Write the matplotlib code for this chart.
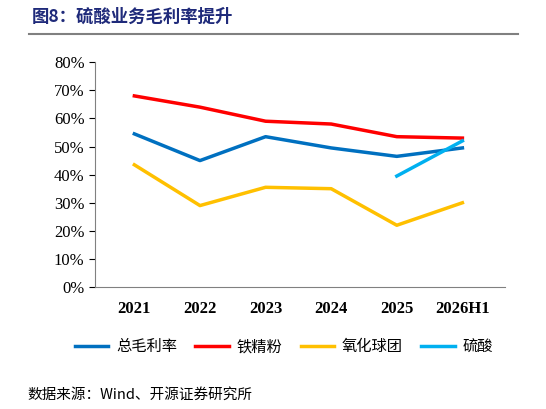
import matplotlib
matplotlib.use("Agg")
import matplotlib.pyplot as plt
from matplotlib.lines import Line2D

years = ["2021", "2022", "2023", "2024", "2025", "2026H1"]
total = [54.5, 45.0, 53.5, 49.5, 46.5, 49.5]
iron = [68.0, 64.0, 59.0, 58.0, 53.5, 53.0]
pellet = [43.5, 29.0, 35.5, 35.0, 22.0, 30.0]
acid_x = ["2025", "2026H1"]
acid = [39.5, 52.0]

cjk = ["Noto Sans CJK SC", "DejaVu Sans"]
serif = ["Liberation Serif", "Noto Sans CJK SC"]

fig = plt.figure(figsize=(5.46, 4.09), dpi=100)
ax = fig.add_axes([0.174, 0.298, 0.751, 0.55])
x = list(range(len(years)))
ax.plot(x, total, color="#0070C0", lw=2.5, label="总毛利率")
ax.plot(x, iron, color="#FF0000", lw=2.5, label="铁精粉")
ax.plot(x, pellet, color="#FFC000", lw=2.5, label="氧化球团")
ax.plot([years.index(a) for a in acid_x], acid, color="#00B0F0", lw=2.5, label="硫酸")
ax.set_xlim(-0.6, 5.65)
ax.set_ylim(0, 80)
ax.set_yticks(range(0, 81, 10))
ax.set_yticklabels([f"{v}%" for v in range(0, 81, 10)], fontfamily=serif, fontsize=12)
ax.set_xticks(x)
ax.set_xticklabels(years, fontfamily=serif, fontsize=12, fontweight="bold")
ax.tick_params(axis="x", length=0, pad=10)
ax.tick_params(axis="y", direction="out", length=4)
for s in ["top", "right"]:
    ax.spines[s].set_visible(False)
for s in ["left", "bottom"]:
    ax.spines[s].set_color("#808080")
fig.legend(loc="center", bbox_to_anchor=(0.52, 0.152), ncol=4, frameon=False,
           prop={"family": cjk, "size": 11}, handlelength=2.2, columnspacing=1.2,
           handletextpad=0.5)
fig.text(0.058, 0.958, "图8：硫酸业务毛利率提升", fontfamily=cjk, fontsize=12.5,
         fontweight="bold", color="#1F2A7A", va="center")
fig.add_artist(Line2D([0.053, 0.949], [0.916, 0.916], color="#808080", lw=1.5))
fig.text(0.05, 0.035, "数据来源：Wind、开源证券研究所", fontfamily=serif[::-1], fontsize=10.5, va="center")
fig.savefig("out.png", dpi=100)
